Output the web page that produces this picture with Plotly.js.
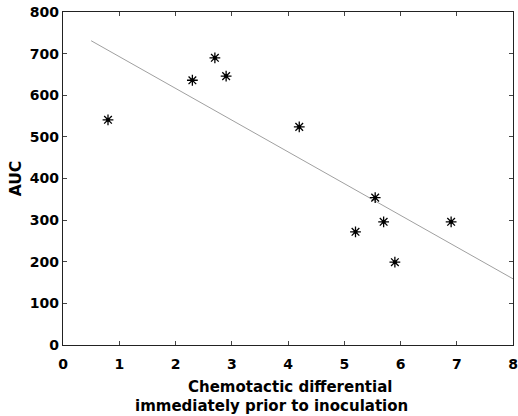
<!DOCTYPE html>
<html>
<head>
<meta charset="utf-8">
<script src="https://cdn.plot.ly/plotly-3.0.1.min.js"></script>
<style>html,body{margin:0;padding:0;background:#fff;}#chart{width:518px;height:416px;}</style>
</head>
<body>
<div id="chart"></div>
<script>
var chemotaxis = [0.8, 2.3, 2.7, 2.9, 4.2, 5.2, 5.55, 5.7, 5.9, 6.9];
var auc = [541, 636, 690, 646, 524, 272, 354, 296, 199, 296];
var fitX = [0.5, 8];
var fitY = [731, 159];
var xTicks = [0, 1, 2, 3, 4, 5, 6, 7, 8];
var yTicks = [0, 100, 200, 300, 400, 500, 600, 700, 800];
var xTitleLines = ['Chemotactic differential', 'immediately prior to inoculation'];

var font = 'DejaVu Sans, Arial, sans-serif';
var traces = [
  {x: fitX, y: fitY, mode: 'lines', type: 'scatter',
   line: {color: '#a0a0a0', width: 1}, hoverinfo: 'skip'},
  {x: chemotaxis, y: auc, mode: 'markers', type: 'scatter',
   marker: {symbol: 'asterisk-open', size: 9, color: '#000', line: {color: '#000', width: 1.3}}},
  {x: chemotaxis, y: auc, mode: 'markers', type: 'scatter',
   marker: {symbol: 'circle', size: 4, color: '#000'}}
];
var layout = {
  width: 518, height: 416,
  margin: {l: 63, r: 5, t: 12, b: 71},
  showlegend: false,
  paper_bgcolor: '#fff', plot_bgcolor: '#fff',
  font: {family: font, color: '#000'},
  xaxis: {
    range: [0, 8], tickvals: xTicks, ticktext: xTicks.map(String),
    showgrid: false, zeroline: false,
    showline: true, linecolor: '#222', linewidth: 1, mirror: 'ticks',
    ticks: 'inside', ticklen: 4, tickcolor: '#444',
    ticklabelstandoff: 6,
    tickfont: {family: font, size: 14, weight: 'bold'}
  },
  yaxis: {
    range: [0, 800], tickvals: yTicks, ticktext: yTicks.map(String),
    showgrid: false, zeroline: false,
    showline: true, linecolor: '#222', linewidth: 1.2, mirror: 'ticks',
    ticks: 'inside', ticklen: 4, tickcolor: '#444',
    tickfont: {family: font, size: 14, weight: 'bold'},
    title: {text: '<b>AUC</b>', font: {family: font, size: 15.5}, standoff: 4}
  },
  annotations: [
    {text: '<b>' + xTitleLines[0] + '</b>', xref: 'paper', yref: 'paper',
     x: 0.504, y: -0.126, xanchor: 'center', yanchor: 'middle', showarrow: false,
     font: {family: font, size: 15, color: '#000'}},
    {text: '<b>' + xTitleLines[1] + '</b>', xref: 'paper', yref: 'paper',
     x: 0.463, y: -0.182, xanchor: 'center', yanchor: 'middle', showarrow: false,
     font: {family: font, size: 15, color: '#000'}}
  ]
};
Plotly.newPlot('chart', traces, layout, {displayModeBar: false, staticPlot: true});
</script>
</body>
</html>
